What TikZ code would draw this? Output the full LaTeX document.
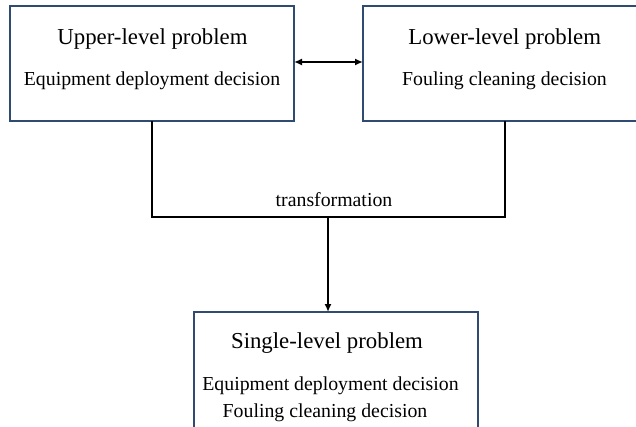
\documentclass[tikz,border=0pt]{standalone}
\usepackage{fontspec}
\setmainfont{Liberation Serif}
\usetikzlibrary{arrows.meta}

\definecolor{boxline}{HTML}{2F4B72}

\tikzset{
    levelbox/.style={draw=boxline, line width=1.5pt, fill=white,
        minimum width=284pt, minimum height=115pt, inner sep=0pt, outer sep=0pt},
    titletext/.style={font=\fontsize{22.8}{26}\selectfont},
    subtext/.style={font=\fontsize{19.8}{23}\selectfont},
    link/.style={line width=1.6pt, black}
}

\begin{document}
\begin{tikzpicture}[x=1pt, y=-1pt]
    \useasboundingbox (0, 0) rectangle (636, 426);

    % the three problem boxes
    \node[levelbox] (upper) at (152, 63.5) {};
    \node[levelbox] (lower) at (505, 63.5) {};
    \node[levelbox, minimum height=120pt] (single) at (336, 372) {};

        \node[titletext] (upperT) at (152.5, 39.5) {Upper-level problem};
        \node[subtext] (upperS) at (152, 80.3) {Equipment deployment decision};

        \node[titletext] (lowerT) at (504.7, 39.5) {Lower-level problem};
        \node[subtext] (lowerS) at (504.5, 80.3) {Fouling cleaning decision};

        \node[titletext] (singleT) at (327, 342.6) {Single-level problem};
        \node[subtext] (singleS1) at (330.5, 386) {Equipment deployment decision};
        \node[subtext] (singleS2) at (325, 413) {Fouling cleaning decision};

    % connectors
    \coordinate (join) at (328, 217);
    \draw[link, {Latex[length=8pt,width=7pt]}-{Latex[length=8pt,width=7pt]}] (upper.east |- 0, 62) -- (lower.west |- 0, 62);
    \draw[link] (upper.south) |- (join) -| (lower.south);
    \draw[link, -{Latex[length=8pt,width=7pt]}] (join) -- (join |- single.north);

    \node[subtext] (trans) at (334, 200) {transformation};
\end{tikzpicture}
\end{document}
